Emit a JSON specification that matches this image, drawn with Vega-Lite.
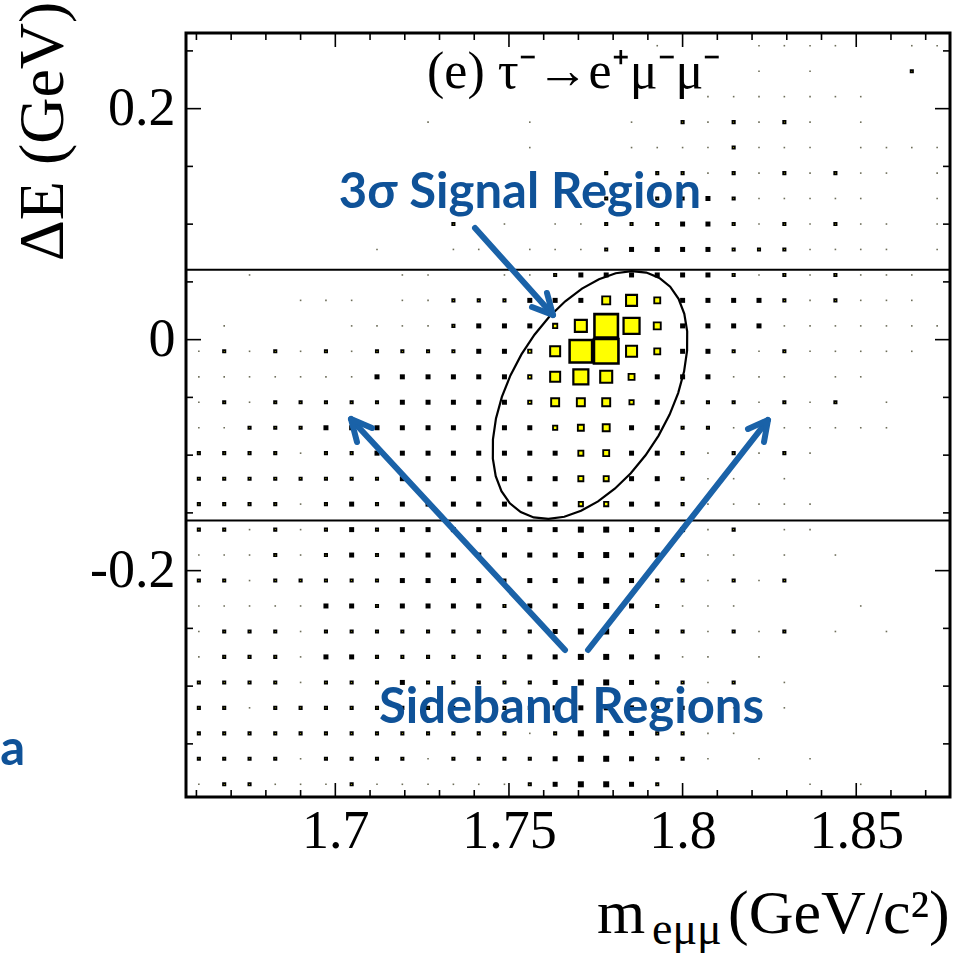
{
"$schema":"https://vega.github.io/schema/vega-lite/v6.json",
"width":764,"height":764,
"autosize":{"type":"none"},
"padding":{"left":186,"top":33,"right":13,"bottom":156},
"background":"white",
"config":{
 "view":{"stroke":"black","strokeWidth":3},
 "axis":{"grid":false,"domain":false,"ticks":false,"labelFont":"Liberation Serif","labelFontSize":54,"labelColor":"black","titleFont":"Liberation Serif","titleColor":"black","titleFontWeight":"normal","labelOverlap":false,"labelFlush":false}
},
"datasets":{
"xt":[{"m":1.7,"t":"maj"},{"m":1.75,"t":"maj"},{"m":1.8,"t":"maj"},{"m":1.85,"t":"maj"},{"m":1.66,"t":"min"},{"m":1.67,"t":"min"},{"m":1.68,"t":"min"},{"m":1.69,"t":"min"},{"m":1.71,"t":"min"},{"m":1.72,"t":"min"},{"m":1.73,"t":"min"},{"m":1.74,"t":"min"},{"m":1.76,"t":"min"},{"m":1.77,"t":"min"},{"m":1.78,"t":"min"},{"m":1.79,"t":"min"},{"m":1.81,"t":"min"},{"m":1.82,"t":"min"},{"m":1.83,"t":"min"},{"m":1.84,"t":"min"},{"m":1.86,"t":"min"},{"m":1.87,"t":"min"}],
"yt":[{"dE":-0.2,"t":"maj"},{"dE":0,"t":"maj"},{"dE":0.2,"t":"maj"},{"dE":-0.35,"t":"min"},{"dE":-0.3,"t":"min"},{"dE":-0.25,"t":"min"},{"dE":-0.15,"t":"min"},{"dE":-0.1,"t":"min"},{"dE":-0.05,"t":"min"},{"dE":0.05,"t":"min"},{"dE":0.1,"t":"min"},{"dE":0.15,"t":"min"},{"dE":0.25,"t":"min"}],
"cells":[
{"m":1.7927,"dE":0.2545,"n":1.6,"k":"low"},{"m":1.822,"dE":0.2545,"n":1.6,"k":"low"},{"m":1.8293,"dE":0.2545,"n":1.6,"k":"low"},{"m":1.8367,"dE":0.2545,"n":1.6,"k":"low"},{"m":1.844,"dE":0.2545,"n":1.6,"k":"low"},{"m":1.866,"dE":0.2545,"n":1.6,"k":"low"},{"m":1.8733,"dE":0.2545,"n":1.6,"k":"low"},
{"m":1.822,"dE":0.2324,"n":1.6,"k":"low"},{"m":1.8367,"dE":0.2324,"n":1.6,"k":"low"},{"m":1.866,"dE":0.2324,"n":2.4,"k":"sig"},
{"m":1.8,"dE":0.2104,"n":1.6,"k":"low"},{"m":1.8073,"dE":0.2104,"n":1.6,"k":"low"},{"m":1.8147,"dE":0.2104,"n":1.6,"k":"low"},{"m":1.822,"dE":0.2104,"n":1.6,"k":"low"},{"m":1.8293,"dE":0.2104,"n":1.6,"k":"low"},{"m":1.8367,"dE":0.2104,"n":1.6,"k":"low"},{"m":1.844,"dE":0.2104,"n":1.6,"k":"low"},{"m":1.8513,"dE":0.2104,"n":1.6,"k":"low"},
{"m":1.7267,"dE":0.1883,"n":1.6,"k":"low"},{"m":1.756,"dE":0.1883,"n":1.6,"k":"low"},{"m":1.7853,"dE":0.1883,"n":1.6,"k":"low"},{"m":1.8,"dE":0.1883,"n":2.4,"k":"sig"},{"m":1.8073,"dE":0.1883,"n":1.6,"k":"low"},{"m":1.8147,"dE":0.1883,"n":2.4,"k":"sig"},{"m":1.822,"dE":0.1883,"n":1.6,"k":"low"},{"m":1.8293,"dE":0.1883,"n":2.4,"k":"sig"},{"m":1.8367,"dE":0.1883,"n":1.6,"k":"low"},{"m":1.8513,"dE":0.1883,"n":1.6,"k":"low"},
{"m":1.756,"dE":0.1663,"n":1.6,"k":"low"},{"m":1.7853,"dE":0.1663,"n":1.6,"k":"low"},{"m":1.7927,"dE":0.1663,"n":1.6,"k":"low"},{"m":1.8,"dE":0.1663,"n":1.6,"k":"low"},{"m":1.8073,"dE":0.1663,"n":1.6,"k":"low"},{"m":1.8147,"dE":0.1663,"n":2.4,"k":"sig"},{"m":1.822,"dE":0.1663,"n":1.6,"k":"low"},{"m":1.8293,"dE":0.1663,"n":1.6,"k":"low"},{"m":1.8367,"dE":0.1663,"n":1.6,"k":"low"},{"m":1.8513,"dE":0.1663,"n":1.6,"k":"low"},{"m":1.8587,"dE":0.1663,"n":1.6,"k":"low"},{"m":1.866,"dE":0.1663,"n":1.6,"k":"low"},{"m":1.8733,"dE":0.1663,"n":1.6,"k":"low"},
{"m":1.778,"dE":0.1442,"n":2.4,"k":"sig"},{"m":1.7927,"dE":0.1442,"n":2.4,"k":"sig"},{"m":1.8,"dE":0.1442,"n":2.4,"k":"sig"},{"m":1.8073,"dE":0.1442,"n":1.6,"k":"low"},{"m":1.8147,"dE":0.1442,"n":2.4,"k":"sig"},{"m":1.822,"dE":0.1442,"n":1.6,"k":"low"},{"m":1.8293,"dE":0.1442,"n":2.4,"k":"sig"},{"m":1.8367,"dE":0.1442,"n":1.6,"k":"low"},{"m":1.844,"dE":0.1442,"n":2.4,"k":"sig"},{"m":1.8513,"dE":0.1442,"n":1.6,"k":"low"},{"m":1.8587,"dE":0.1442,"n":1.6,"k":"low"},{"m":1.8733,"dE":0.1442,"n":1.6,"k":"low"},
{"m":1.778,"dE":0.1222,"n":2.4,"k":"sig"},{"m":1.7927,"dE":0.1222,"n":2.4,"k":"sig"},{"m":1.8,"dE":0.1222,"n":2.4,"k":"sig"},{"m":1.8073,"dE":0.1222,"n":5,"k":"bkg"},{"m":1.8147,"dE":0.1222,"n":2.4,"k":"sig"},{"m":1.822,"dE":0.1222,"n":1.6,"k":"low"},{"m":1.8293,"dE":0.1222,"n":1.6,"k":"low"},{"m":1.8367,"dE":0.1222,"n":1.6,"k":"low"},{"m":1.844,"dE":0.1222,"n":1.6,"k":"low"},{"m":1.8513,"dE":0.1222,"n":1.6,"k":"low"},{"m":1.8733,"dE":0.1222,"n":1.6,"k":"low"},
{"m":1.734,"dE":0.1001,"n":2.4,"k":"sig"},{"m":1.7487,"dE":0.1001,"n":1.6,"k":"low"},{"m":1.7633,"dE":0.1001,"n":1.6,"k":"low"},{"m":1.7707,"dE":0.1001,"n":1.6,"k":"low"},{"m":1.778,"dE":0.1001,"n":2.4,"k":"sig"},{"m":1.7853,"dE":0.1001,"n":2.4,"k":"sig"},{"m":1.7927,"dE":0.1001,"n":2.4,"k":"sig"},{"m":1.8,"dE":0.1001,"n":5,"k":"bkg"},{"m":1.8073,"dE":0.1001,"n":5,"k":"bkg"},{"m":1.8147,"dE":0.1001,"n":2.4,"k":"sig"},{"m":1.822,"dE":0.1001,"n":1.6,"k":"low"},{"m":1.8293,"dE":0.1001,"n":2.4,"k":"sig"},{"m":1.8367,"dE":0.1001,"n":1.6,"k":"low"},{"m":1.844,"dE":0.1001,"n":2.4,"k":"sig"},{"m":1.8513,"dE":0.1001,"n":1.6,"k":"low"},{"m":1.8587,"dE":0.1001,"n":1.6,"k":"low"},{"m":1.8733,"dE":0.1001,"n":1.6,"k":"low"},
{"m":1.712,"dE":0.0781,"n":1.6,"k":"low"},{"m":1.734,"dE":0.0781,"n":1.6,"k":"low"},{"m":1.7413,"dE":0.0781,"n":1.6,"k":"low"},{"m":1.756,"dE":0.0781,"n":1.6,"k":"low"},{"m":1.7633,"dE":0.0781,"n":1.6,"k":"low"},{"m":1.7707,"dE":0.0781,"n":1.6,"k":"low"},{"m":1.778,"dE":0.0781,"n":2.4,"k":"sig"},{"m":1.7853,"dE":0.0781,"n":5,"k":"bkg"},{"m":1.7927,"dE":0.0781,"n":5,"k":"bkg"},{"m":1.8,"dE":0.0781,"n":5,"k":"bkg"},{"m":1.8073,"dE":0.0781,"n":5,"k":"bkg"},{"m":1.8147,"dE":0.0781,"n":2.4,"k":"sig"},{"m":1.822,"dE":0.0781,"n":2.4,"k":"sig"},{"m":1.8293,"dE":0.0781,"n":2.4,"k":"sig"},{"m":1.8367,"dE":0.0781,"n":1.6,"k":"low"},{"m":1.844,"dE":0.0781,"n":1.6,"k":"low"},{"m":1.8513,"dE":0.0781,"n":1.6,"k":"low"},{"m":1.8587,"dE":0.0781,"n":1.6,"k":"low"},{"m":1.8733,"dE":0.0781,"n":1.6,"k":"low"},
{"m":1.6753,"dE":0.056,"n":1.6,"k":"low"},{"m":1.7193,"dE":0.056,"n":1.6,"k":"low"},{"m":1.7267,"dE":0.056,"n":1.6,"k":"low"},{"m":1.7487,"dE":0.056,"n":1.6,"k":"low"},{"m":1.756,"dE":0.056,"n":1.6,"k":"low"},{"m":1.7633,"dE":0.056,"n":2.4,"k":"sig"},{"m":1.7707,"dE":0.056,"n":5,"k":"bkg"},{"m":1.778,"dE":0.056,"n":5,"k":"bkg"},{"m":1.7853,"dE":0.056,"n":5,"k":"bkg"},{"m":1.7927,"dE":0.056,"n":5,"k":"bkg"},{"m":1.8,"dE":0.056,"n":5,"k":"bkg"},{"m":1.8073,"dE":0.056,"n":5,"k":"bkg"},{"m":1.8147,"dE":0.056,"n":2.4,"k":"sig"},{"m":1.822,"dE":0.056,"n":1.6,"k":"low"},{"m":1.8293,"dE":0.056,"n":2.4,"k":"sig"},{"m":1.8367,"dE":0.056,"n":1.6,"k":"low"},{"m":1.844,"dE":0.056,"n":2.4,"k":"sig"},{"m":1.8513,"dE":0.056,"n":1.6,"k":"low"},{"m":1.8587,"dE":0.056,"n":1.6,"k":"low"},{"m":1.866,"dE":0.056,"n":1.6,"k":"low"},
{"m":1.69,"dE":0.034,"n":1.6,"k":"low"},{"m":1.6973,"dE":0.034,"n":1.6,"k":"low"},{"m":1.7047,"dE":0.034,"n":1.6,"k":"low"},{"m":1.7193,"dE":0.034,"n":1.6,"k":"low"},{"m":1.7267,"dE":0.034,"n":1.6,"k":"low"},{"m":1.734,"dE":0.034,"n":2.4,"k":"sig"},{"m":1.7413,"dE":0.034,"n":2.4,"k":"sig"},{"m":1.7487,"dE":0.034,"n":2.4,"k":"sig"},{"m":1.756,"dE":0.034,"n":5,"k":"bkg"},{"m":1.7633,"dE":0.034,"n":5,"k":"bkg"},{"m":1.7707,"dE":0.034,"n":5,"k":"bkg"},{"m":1.778,"dE":0.034,"n":8,"k":"sig"},{"m":1.7853,"dE":0.034,"n":11,"k":"sig"},{"m":1.7927,"dE":0.034,"n":6,"k":"sig"},{"m":1.8,"dE":0.034,"n":5,"k":"bkg"},{"m":1.8073,"dE":0.034,"n":5,"k":"bkg"},{"m":1.8147,"dE":0.034,"n":5,"k":"bkg"},{"m":1.822,"dE":0.034,"n":5,"k":"bkg"},{"m":1.8293,"dE":0.034,"n":2.4,"k":"sig"},{"m":1.8367,"dE":0.034,"n":1.6,"k":"low"},{"m":1.844,"dE":0.034,"n":2.4,"k":"sig"},{"m":1.8513,"dE":0.034,"n":1.6,"k":"low"},{"m":1.8587,"dE":0.034,"n":1.6,"k":"low"},{"m":1.866,"dE":0.034,"n":1.6,"k":"low"},
{"m":1.668,"dE":0.0119,"n":1.6,"k":"low"},{"m":1.7047,"dE":0.0119,"n":1.6,"k":"low"},{"m":1.712,"dE":0.0119,"n":1.6,"k":"low"},{"m":1.7193,"dE":0.0119,"n":1.6,"k":"low"},{"m":1.7267,"dE":0.0119,"n":1.6,"k":"low"},{"m":1.734,"dE":0.0119,"n":2.4,"k":"sig"},{"m":1.7413,"dE":0.0119,"n":5,"k":"bkg"},{"m":1.7487,"dE":0.0119,"n":5,"k":"bkg"},{"m":1.756,"dE":0.0119,"n":5,"k":"bkg"},{"m":1.7633,"dE":0.0119,"n":4.3,"k":"sig"},{"m":1.7707,"dE":0.0119,"n":12,"k":"sig"},{"m":1.778,"dE":0.0119,"n":23.5,"k":"sig"},{"m":1.7853,"dE":0.0119,"n":16,"k":"sig"},{"m":1.7927,"dE":0.0119,"n":7,"k":"sig"},{"m":1.8,"dE":0.0119,"n":5,"k":"bkg"},{"m":1.8073,"dE":0.0119,"n":5,"k":"bkg"},{"m":1.8147,"dE":0.0119,"n":5,"k":"bkg"},{"m":1.822,"dE":0.0119,"n":5,"k":"bkg"},{"m":1.8293,"dE":0.0119,"n":1.6,"k":"low"},{"m":1.8367,"dE":0.0119,"n":1.6,"k":"low"},{"m":1.844,"dE":0.0119,"n":1.6,"k":"low"},{"m":1.8513,"dE":0.0119,"n":1.6,"k":"low"},{"m":1.8587,"dE":0.0119,"n":1.6,"k":"low"},{"m":1.866,"dE":0.0119,"n":1.6,"k":"low"},{"m":1.8733,"dE":0.0119,"n":1.6,"k":"low"},
{"m":1.6607,"dE":-0.0101,"n":1.6,"k":"low"},{"m":1.668,"dE":-0.0101,"n":2.4,"k":"sig"},{"m":1.6753,"dE":-0.0101,"n":1.6,"k":"low"},{"m":1.6827,"dE":-0.0101,"n":2.4,"k":"sig"},{"m":1.69,"dE":-0.0101,"n":1.6,"k":"low"},{"m":1.6973,"dE":-0.0101,"n":2.4,"k":"sig"},{"m":1.7047,"dE":-0.0101,"n":1.6,"k":"low"},{"m":1.712,"dE":-0.0101,"n":2.4,"k":"sig"},{"m":1.7193,"dE":-0.0101,"n":2.4,"k":"sig"},{"m":1.7267,"dE":-0.0101,"n":2.4,"k":"sig"},{"m":1.734,"dE":-0.0101,"n":2.4,"k":"sig"},{"m":1.7413,"dE":-0.0101,"n":5,"k":"bkg"},{"m":1.7487,"dE":-0.0101,"n":5,"k":"bkg"},{"m":1.756,"dE":-0.0101,"n":3.4,"k":"sig"},{"m":1.7633,"dE":-0.0101,"n":10,"k":"sig"},{"m":1.7707,"dE":-0.0101,"n":22.5,"k":"sig"},{"m":1.778,"dE":-0.0101,"n":24.5,"k":"sig"},{"m":1.7853,"dE":-0.0101,"n":11,"k":"sig"},{"m":1.7927,"dE":-0.0101,"n":6,"k":"sig"},{"m":1.8,"dE":-0.0101,"n":5,"k":"bkg"},{"m":1.8073,"dE":-0.0101,"n":5,"k":"bkg"},{"m":1.8147,"dE":-0.0101,"n":2.4,"k":"sig"},{"m":1.822,"dE":-0.0101,"n":1.6,"k":"low"},{"m":1.8293,"dE":-0.0101,"n":2.4,"k":"sig"},{"m":1.8367,"dE":-0.0101,"n":1.6,"k":"low"},{"m":1.844,"dE":-0.0101,"n":1.6,"k":"low"},{"m":1.8513,"dE":-0.0101,"n":1.6,"k":"low"},{"m":1.8587,"dE":-0.0101,"n":1.6,"k":"low"},{"m":1.866,"dE":-0.0101,"n":1.6,"k":"low"},
{"m":1.6607,"dE":-0.0322,"n":1.6,"k":"low"},{"m":1.668,"dE":-0.0322,"n":1.6,"k":"low"},{"m":1.6753,"dE":-0.0322,"n":1.6,"k":"low"},{"m":1.6827,"dE":-0.0322,"n":1.6,"k":"low"},{"m":1.69,"dE":-0.0322,"n":1.6,"k":"low"},{"m":1.6973,"dE":-0.0322,"n":1.6,"k":"low"},{"m":1.7047,"dE":-0.0322,"n":1.6,"k":"low"},{"m":1.712,"dE":-0.0322,"n":5,"k":"bkg"},{"m":1.7193,"dE":-0.0322,"n":5,"k":"bkg"},{"m":1.7267,"dE":-0.0322,"n":5,"k":"bkg"},{"m":1.734,"dE":-0.0322,"n":5,"k":"bkg"},{"m":1.7413,"dE":-0.0322,"n":5,"k":"bkg"},{"m":1.7487,"dE":-0.0322,"n":5,"k":"bkg"},{"m":1.756,"dE":-0.0322,"n":3.4,"k":"sig"},{"m":1.7633,"dE":-0.0322,"n":10,"k":"sig"},{"m":1.7707,"dE":-0.0322,"n":15,"k":"sig"},{"m":1.778,"dE":-0.0322,"n":12,"k":"sig"},{"m":1.7853,"dE":-0.0322,"n":6,"k":"sig"},{"m":1.7927,"dE":-0.0322,"n":5,"k":"bkg"},{"m":1.8,"dE":-0.0322,"n":5,"k":"bkg"},{"m":1.8073,"dE":-0.0322,"n":5,"k":"bkg"},{"m":1.8147,"dE":-0.0322,"n":1.6,"k":"low"},{"m":1.822,"dE":-0.0322,"n":1.6,"k":"low"},{"m":1.8293,"dE":-0.0322,"n":1.6,"k":"low"},{"m":1.844,"dE":-0.0322,"n":1.6,"k":"low"},{"m":1.8513,"dE":-0.0322,"n":1.6,"k":"low"},
{"m":1.6607,"dE":-0.0542,"n":1.6,"k":"low"},{"m":1.668,"dE":-0.0542,"n":2.4,"k":"sig"},{"m":1.6753,"dE":-0.0542,"n":1.6,"k":"low"},{"m":1.6827,"dE":-0.0542,"n":2.4,"k":"sig"},{"m":1.69,"dE":-0.0542,"n":2.4,"k":"sig"},{"m":1.6973,"dE":-0.0542,"n":2.4,"k":"sig"},{"m":1.7047,"dE":-0.0542,"n":2.4,"k":"sig"},{"m":1.712,"dE":-0.0542,"n":2.4,"k":"sig"},{"m":1.7193,"dE":-0.0542,"n":5,"k":"bkg"},{"m":1.7267,"dE":-0.0542,"n":5,"k":"bkg"},{"m":1.734,"dE":-0.0542,"n":5,"k":"bkg"},{"m":1.7413,"dE":-0.0542,"n":5,"k":"bkg"},{"m":1.7487,"dE":-0.0542,"n":5,"k":"bkg"},{"m":1.756,"dE":-0.0542,"n":3.4,"k":"sig"},{"m":1.7633,"dE":-0.0542,"n":8,"k":"sig"},{"m":1.7707,"dE":-0.0542,"n":8,"k":"sig"},{"m":1.778,"dE":-0.0542,"n":8,"k":"sig"},{"m":1.7853,"dE":-0.0542,"n":4.3,"k":"sig"},{"m":1.7927,"dE":-0.0542,"n":5,"k":"bkg"},{"m":1.8,"dE":-0.0542,"n":2.4,"k":"sig"},{"m":1.8073,"dE":-0.0542,"n":2.4,"k":"sig"},{"m":1.8147,"dE":-0.0542,"n":2.4,"k":"sig"},{"m":1.822,"dE":-0.0542,"n":1.6,"k":"low"},{"m":1.8293,"dE":-0.0542,"n":2.4,"k":"sig"},{"m":1.8367,"dE":-0.0542,"n":1.6,"k":"low"},{"m":1.844,"dE":-0.0542,"n":2.4,"k":"sig"},{"m":1.8587,"dE":-0.0542,"n":1.6,"k":"low"},
{"m":1.6607,"dE":-0.0763,"n":1.6,"k":"low"},{"m":1.668,"dE":-0.0763,"n":1.6,"k":"low"},{"m":1.6753,"dE":-0.0763,"n":2.4,"k":"sig"},{"m":1.6827,"dE":-0.0763,"n":2.4,"k":"sig"},{"m":1.69,"dE":-0.0763,"n":2.4,"k":"sig"},{"m":1.6973,"dE":-0.0763,"n":5,"k":"bkg"},{"m":1.7047,"dE":-0.0763,"n":5,"k":"bkg"},{"m":1.712,"dE":-0.0763,"n":5,"k":"bkg"},{"m":1.7193,"dE":-0.0763,"n":5,"k":"bkg"},{"m":1.7267,"dE":-0.0763,"n":5,"k":"bkg"},{"m":1.734,"dE":-0.0763,"n":5,"k":"bkg"},{"m":1.7413,"dE":-0.0763,"n":5,"k":"bkg"},{"m":1.7487,"dE":-0.0763,"n":5,"k":"bkg"},{"m":1.756,"dE":-0.0763,"n":5,"k":"bkg"},{"m":1.7633,"dE":-0.0763,"n":4.3,"k":"sig"},{"m":1.7707,"dE":-0.0763,"n":6,"k":"sig"},{"m":1.778,"dE":-0.0763,"n":7,"k":"sig"},{"m":1.7853,"dE":-0.0763,"n":5,"k":"bkg"},{"m":1.7927,"dE":-0.0763,"n":5,"k":"bkg"},{"m":1.8,"dE":-0.0763,"n":2.4,"k":"sig"},{"m":1.8073,"dE":-0.0763,"n":2.4,"k":"sig"},{"m":1.8147,"dE":-0.0763,"n":1.6,"k":"low"},{"m":1.8293,"dE":-0.0763,"n":1.6,"k":"low"},{"m":1.8367,"dE":-0.0763,"n":1.6,"k":"low"},{"m":1.844,"dE":-0.0763,"n":1.6,"k":"low"},{"m":1.8513,"dE":-0.0763,"n":1.6,"k":"low"},{"m":1.8587,"dE":-0.0763,"n":1.6,"k":"low"},
{"m":1.6607,"dE":-0.0983,"n":2.4,"k":"sig"},{"m":1.668,"dE":-0.0983,"n":2.4,"k":"sig"},{"m":1.6753,"dE":-0.0983,"n":2.4,"k":"sig"},{"m":1.6827,"dE":-0.0983,"n":2.4,"k":"sig"},{"m":1.69,"dE":-0.0983,"n":1.6,"k":"low"},{"m":1.6973,"dE":-0.0983,"n":2.4,"k":"sig"},{"m":1.7047,"dE":-0.0983,"n":2.4,"k":"sig"},{"m":1.712,"dE":-0.0983,"n":5,"k":"bkg"},{"m":1.7193,"dE":-0.0983,"n":5,"k":"bkg"},{"m":1.7267,"dE":-0.0983,"n":5,"k":"bkg"},{"m":1.734,"dE":-0.0983,"n":5,"k":"bkg"},{"m":1.7413,"dE":-0.0983,"n":5,"k":"bkg"},{"m":1.7487,"dE":-0.0983,"n":5,"k":"bkg"},{"m":1.756,"dE":-0.0983,"n":5,"k":"bkg"},{"m":1.7633,"dE":-0.0983,"n":5,"k":"bkg"},{"m":1.7707,"dE":-0.0983,"n":5.1,"k":"sig"},{"m":1.778,"dE":-0.0983,"n":6,"k":"sig"},{"m":1.7853,"dE":-0.0983,"n":5,"k":"bkg"},{"m":1.7927,"dE":-0.0983,"n":5,"k":"bkg"},{"m":1.8,"dE":-0.0983,"n":2.4,"k":"sig"},{"m":1.8073,"dE":-0.0983,"n":1.6,"k":"low"},{"m":1.8147,"dE":-0.0983,"n":2.4,"k":"sig"},{"m":1.822,"dE":-0.0983,"n":1.6,"k":"low"},{"m":1.8293,"dE":-0.0983,"n":2.4,"k":"sig"},{"m":1.8367,"dE":-0.0983,"n":1.6,"k":"low"},
{"m":1.6607,"dE":-0.1204,"n":2.4,"k":"sig"},{"m":1.668,"dE":-0.1204,"n":2.4,"k":"sig"},{"m":1.6753,"dE":-0.1204,"n":2.4,"k":"sig"},{"m":1.6827,"dE":-0.1204,"n":2.4,"k":"sig"},{"m":1.69,"dE":-0.1204,"n":2.4,"k":"sig"},{"m":1.6973,"dE":-0.1204,"n":2.4,"k":"sig"},{"m":1.7047,"dE":-0.1204,"n":2.4,"k":"sig"},{"m":1.712,"dE":-0.1204,"n":2.4,"k":"sig"},{"m":1.7193,"dE":-0.1204,"n":5,"k":"bkg"},{"m":1.7267,"dE":-0.1204,"n":5,"k":"bkg"},{"m":1.734,"dE":-0.1204,"n":5,"k":"bkg"},{"m":1.7413,"dE":-0.1204,"n":5,"k":"bkg"},{"m":1.7487,"dE":-0.1204,"n":5,"k":"bkg"},{"m":1.756,"dE":-0.1204,"n":5,"k":"bkg"},{"m":1.7633,"dE":-0.1204,"n":5,"k":"bkg"},{"m":1.7707,"dE":-0.1204,"n":5.1,"k":"sig"},{"m":1.778,"dE":-0.1204,"n":5.1,"k":"sig"},{"m":1.7853,"dE":-0.1204,"n":5,"k":"bkg"},{"m":1.7927,"dE":-0.1204,"n":5,"k":"bkg"},{"m":1.8,"dE":-0.1204,"n":2.4,"k":"sig"},{"m":1.8073,"dE":-0.1204,"n":1.6,"k":"low"},{"m":1.8147,"dE":-0.1204,"n":1.6,"k":"low"},{"m":1.8293,"dE":-0.1204,"n":1.6,"k":"low"},
{"m":1.6607,"dE":-0.1424,"n":2.4,"k":"sig"},{"m":1.668,"dE":-0.1424,"n":2.4,"k":"sig"},{"m":1.6753,"dE":-0.1424,"n":2.4,"k":"sig"},{"m":1.6827,"dE":-0.1424,"n":2.4,"k":"sig"},{"m":1.69,"dE":-0.1424,"n":1.6,"k":"low"},{"m":1.6973,"dE":-0.1424,"n":2.4,"k":"sig"},{"m":1.7047,"dE":-0.1424,"n":5,"k":"bkg"},{"m":1.712,"dE":-0.1424,"n":2.4,"k":"sig"},{"m":1.7193,"dE":-0.1424,"n":5,"k":"bkg"},{"m":1.7267,"dE":-0.1424,"n":5,"k":"bkg"},{"m":1.734,"dE":-0.1424,"n":5,"k":"bkg"},{"m":1.7413,"dE":-0.1424,"n":5,"k":"bkg"},{"m":1.7487,"dE":-0.1424,"n":5,"k":"bkg"},{"m":1.756,"dE":-0.1424,"n":5,"k":"bkg"},{"m":1.7633,"dE":-0.1424,"n":5,"k":"bkg"},{"m":1.7707,"dE":-0.1424,"n":4.3,"k":"sig"},{"m":1.778,"dE":-0.1424,"n":4.3,"k":"sig"},{"m":1.7853,"dE":-0.1424,"n":5,"k":"bkg"},{"m":1.7927,"dE":-0.1424,"n":5,"k":"bkg"},{"m":1.8,"dE":-0.1424,"n":2.4,"k":"sig"},{"m":1.8073,"dE":-0.1424,"n":1.6,"k":"low"},{"m":1.8147,"dE":-0.1424,"n":1.6,"k":"low"},{"m":1.822,"dE":-0.1424,"n":1.6,"k":"low"},{"m":1.8293,"dE":-0.1424,"n":1.6,"k":"low"},{"m":1.8367,"dE":-0.1424,"n":1.6,"k":"low"},
{"m":1.6607,"dE":-0.1645,"n":2.4,"k":"sig"},{"m":1.668,"dE":-0.1645,"n":2.4,"k":"sig"},{"m":1.6753,"dE":-0.1645,"n":1.6,"k":"low"},{"m":1.6827,"dE":-0.1645,"n":2.4,"k":"sig"},{"m":1.69,"dE":-0.1645,"n":1.6,"k":"low"},{"m":1.6973,"dE":-0.1645,"n":2.4,"k":"sig"},{"m":1.7047,"dE":-0.1645,"n":5,"k":"bkg"},{"m":1.712,"dE":-0.1645,"n":2.4,"k":"sig"},{"m":1.7193,"dE":-0.1645,"n":5,"k":"bkg"},{"m":1.7267,"dE":-0.1645,"n":5,"k":"bkg"},{"m":1.734,"dE":-0.1645,"n":5,"k":"bkg"},{"m":1.7413,"dE":-0.1645,"n":5,"k":"bkg"},{"m":1.7487,"dE":-0.1645,"n":5,"k":"bkg"},{"m":1.756,"dE":-0.1645,"n":5,"k":"bkg"},{"m":1.7633,"dE":-0.1645,"n":5,"k":"bkg"},{"m":1.7707,"dE":-0.1645,"n":6,"k":"bkg"},{"m":1.778,"dE":-0.1645,"n":6,"k":"bkg"},{"m":1.7853,"dE":-0.1645,"n":5,"k":"bkg"},{"m":1.7927,"dE":-0.1645,"n":5,"k":"bkg"},{"m":1.8,"dE":-0.1645,"n":5,"k":"bkg"},{"m":1.8073,"dE":-0.1645,"n":1.6,"k":"low"},{"m":1.8147,"dE":-0.1645,"n":2.4,"k":"sig"},{"m":1.8293,"dE":-0.1645,"n":1.6,"k":"low"},{"m":1.8367,"dE":-0.1645,"n":1.6,"k":"low"},
{"m":1.6607,"dE":-0.1865,"n":1.6,"k":"low"},{"m":1.668,"dE":-0.1865,"n":1.6,"k":"low"},{"m":1.6753,"dE":-0.1865,"n":1.6,"k":"low"},{"m":1.6827,"dE":-0.1865,"n":2.4,"k":"sig"},{"m":1.69,"dE":-0.1865,"n":1.6,"k":"low"},{"m":1.6973,"dE":-0.1865,"n":2.4,"k":"sig"},{"m":1.7047,"dE":-0.1865,"n":5,"k":"bkg"},{"m":1.712,"dE":-0.1865,"n":2.4,"k":"sig"},{"m":1.7193,"dE":-0.1865,"n":5,"k":"bkg"},{"m":1.7267,"dE":-0.1865,"n":5,"k":"bkg"},{"m":1.734,"dE":-0.1865,"n":5,"k":"bkg"},{"m":1.7413,"dE":-0.1865,"n":5,"k":"bkg"},{"m":1.7487,"dE":-0.1865,"n":5,"k":"bkg"},{"m":1.756,"dE":-0.1865,"n":5,"k":"bkg"},{"m":1.7633,"dE":-0.1865,"n":5,"k":"bkg"},{"m":1.7707,"dE":-0.1865,"n":6,"k":"bkg"},{"m":1.778,"dE":-0.1865,"n":6,"k":"bkg"},{"m":1.7853,"dE":-0.1865,"n":5,"k":"bkg"},{"m":1.7927,"dE":-0.1865,"n":5,"k":"bkg"},{"m":1.8,"dE":-0.1865,"n":2.4,"k":"sig"},{"m":1.8073,"dE":-0.1865,"n":1.6,"k":"low"},{"m":1.8147,"dE":-0.1865,"n":1.6,"k":"low"},{"m":1.8293,"dE":-0.1865,"n":1.6,"k":"low"},{"m":1.844,"dE":-0.1865,"n":1.6,"k":"low"},
{"m":1.6607,"dE":-0.2086,"n":2.4,"k":"sig"},{"m":1.668,"dE":-0.2086,"n":2.4,"k":"sig"},{"m":1.6753,"dE":-0.2086,"n":1.6,"k":"low"},{"m":1.6827,"dE":-0.2086,"n":2.4,"k":"sig"},{"m":1.69,"dE":-0.2086,"n":2.4,"k":"sig"},{"m":1.6973,"dE":-0.2086,"n":2.4,"k":"sig"},{"m":1.7047,"dE":-0.2086,"n":2.4,"k":"sig"},{"m":1.712,"dE":-0.2086,"n":2.4,"k":"sig"},{"m":1.7193,"dE":-0.2086,"n":5,"k":"bkg"},{"m":1.7267,"dE":-0.2086,"n":5,"k":"bkg"},{"m":1.734,"dE":-0.2086,"n":5,"k":"bkg"},{"m":1.7413,"dE":-0.2086,"n":5,"k":"bkg"},{"m":1.7487,"dE":-0.2086,"n":2.4,"k":"sig"},{"m":1.756,"dE":-0.2086,"n":5,"k":"bkg"},{"m":1.7633,"dE":-0.2086,"n":5,"k":"bkg"},{"m":1.7707,"dE":-0.2086,"n":6,"k":"bkg"},{"m":1.778,"dE":-0.2086,"n":6,"k":"bkg"},{"m":1.7853,"dE":-0.2086,"n":5,"k":"bkg"},{"m":1.7927,"dE":-0.2086,"n":2.4,"k":"sig"},{"m":1.8,"dE":-0.2086,"n":2.4,"k":"sig"},{"m":1.8073,"dE":-0.2086,"n":1.6,"k":"low"},{"m":1.8147,"dE":-0.2086,"n":2.4,"k":"sig"},{"m":1.822,"dE":-0.2086,"n":1.6,"k":"low"},{"m":1.8293,"dE":-0.2086,"n":2.4,"k":"sig"},
{"m":1.6607,"dE":-0.2306,"n":1.6,"k":"low"},{"m":1.668,"dE":-0.2306,"n":1.6,"k":"low"},{"m":1.6753,"dE":-0.2306,"n":1.6,"k":"low"},{"m":1.6827,"dE":-0.2306,"n":1.6,"k":"low"},{"m":1.69,"dE":-0.2306,"n":1.6,"k":"low"},{"m":1.6973,"dE":-0.2306,"n":5,"k":"bkg"},{"m":1.7047,"dE":-0.2306,"n":5,"k":"bkg"},{"m":1.712,"dE":-0.2306,"n":2.4,"k":"sig"},{"m":1.7193,"dE":-0.2306,"n":5,"k":"bkg"},{"m":1.7267,"dE":-0.2306,"n":5,"k":"bkg"},{"m":1.734,"dE":-0.2306,"n":5,"k":"bkg"},{"m":1.7413,"dE":-0.2306,"n":5,"k":"bkg"},{"m":1.7487,"dE":-0.2306,"n":2.4,"k":"sig"},{"m":1.756,"dE":-0.2306,"n":5,"k":"bkg"},{"m":1.7633,"dE":-0.2306,"n":5,"k":"bkg"},{"m":1.7707,"dE":-0.2306,"n":6,"k":"bkg"},{"m":1.778,"dE":-0.2306,"n":6,"k":"bkg"},{"m":1.7853,"dE":-0.2306,"n":5,"k":"bkg"},{"m":1.7927,"dE":-0.2306,"n":2.4,"k":"sig"},{"m":1.8,"dE":-0.2306,"n":1.6,"k":"low"},{"m":1.8073,"dE":-0.2306,"n":1.6,"k":"low"},{"m":1.8147,"dE":-0.2306,"n":1.6,"k":"low"},{"m":1.8513,"dE":-0.2306,"n":1.6,"k":"low"},
{"m":1.6607,"dE":-0.2527,"n":1.6,"k":"low"},{"m":1.668,"dE":-0.2527,"n":2.4,"k":"sig"},{"m":1.6753,"dE":-0.2527,"n":2.4,"k":"sig"},{"m":1.6827,"dE":-0.2527,"n":2.4,"k":"sig"},{"m":1.69,"dE":-0.2527,"n":1.6,"k":"low"},{"m":1.6973,"dE":-0.2527,"n":2.4,"k":"sig"},{"m":1.7047,"dE":-0.2527,"n":2.4,"k":"sig"},{"m":1.712,"dE":-0.2527,"n":2.4,"k":"sig"},{"m":1.7193,"dE":-0.2527,"n":2.4,"k":"sig"},{"m":1.7267,"dE":-0.2527,"n":2.4,"k":"sig"},{"m":1.734,"dE":-0.2527,"n":2.4,"k":"sig"},{"m":1.7413,"dE":-0.2527,"n":2.4,"k":"sig"},{"m":1.7487,"dE":-0.2527,"n":2.4,"k":"sig"},{"m":1.756,"dE":-0.2527,"n":2.4,"k":"sig"},{"m":1.7633,"dE":-0.2527,"n":5,"k":"bkg"},{"m":1.7707,"dE":-0.2527,"n":6,"k":"bkg"},{"m":1.778,"dE":-0.2527,"n":6,"k":"bkg"},{"m":1.7853,"dE":-0.2527,"n":5,"k":"bkg"},{"m":1.7927,"dE":-0.2527,"n":2.4,"k":"sig"},{"m":1.8,"dE":-0.2527,"n":2.4,"k":"sig"},{"m":1.8073,"dE":-0.2527,"n":1.6,"k":"low"},{"m":1.8147,"dE":-0.2527,"n":2.4,"k":"sig"},{"m":1.822,"dE":-0.2527,"n":1.6,"k":"low"},{"m":1.8293,"dE":-0.2527,"n":2.4,"k":"sig"},{"m":1.844,"dE":-0.2527,"n":1.6,"k":"low"},{"m":1.8587,"dE":-0.2527,"n":1.6,"k":"low"},
{"m":1.6607,"dE":-0.2747,"n":1.6,"k":"low"},{"m":1.668,"dE":-0.2747,"n":2.4,"k":"sig"},{"m":1.6753,"dE":-0.2747,"n":2.4,"k":"sig"},{"m":1.6827,"dE":-0.2747,"n":2.4,"k":"sig"},{"m":1.69,"dE":-0.2747,"n":1.6,"k":"low"},{"m":1.6973,"dE":-0.2747,"n":5,"k":"bkg"},{"m":1.7047,"dE":-0.2747,"n":5,"k":"bkg"},{"m":1.712,"dE":-0.2747,"n":2.4,"k":"sig"},{"m":1.7193,"dE":-0.2747,"n":2.4,"k":"sig"},{"m":1.7267,"dE":-0.2747,"n":2.4,"k":"sig"},{"m":1.734,"dE":-0.2747,"n":2.4,"k":"sig"},{"m":1.7413,"dE":-0.2747,"n":2.4,"k":"sig"},{"m":1.7487,"dE":-0.2747,"n":2.4,"k":"sig"},{"m":1.756,"dE":-0.2747,"n":5,"k":"bkg"},{"m":1.7633,"dE":-0.2747,"n":5,"k":"bkg"},{"m":1.7707,"dE":-0.2747,"n":6,"k":"bkg"},{"m":1.778,"dE":-0.2747,"n":6,"k":"bkg"},{"m":1.7853,"dE":-0.2747,"n":5,"k":"bkg"},{"m":1.7927,"dE":-0.2747,"n":5,"k":"bkg"},{"m":1.8,"dE":-0.2747,"n":1.6,"k":"low"},{"m":1.8073,"dE":-0.2747,"n":1.6,"k":"low"},{"m":1.822,"dE":-0.2747,"n":1.6,"k":"low"},
{"m":1.6607,"dE":-0.2968,"n":2.4,"k":"sig"},{"m":1.668,"dE":-0.2968,"n":2.4,"k":"sig"},{"m":1.6753,"dE":-0.2968,"n":2.4,"k":"sig"},{"m":1.6827,"dE":-0.2968,"n":2.4,"k":"sig"},{"m":1.69,"dE":-0.2968,"n":1.6,"k":"low"},{"m":1.6973,"dE":-0.2968,"n":2.4,"k":"sig"},{"m":1.7047,"dE":-0.2968,"n":2.4,"k":"sig"},{"m":1.712,"dE":-0.2968,"n":2.4,"k":"sig"},{"m":1.7193,"dE":-0.2968,"n":5,"k":"bkg"},{"m":1.7267,"dE":-0.2968,"n":2.4,"k":"sig"},{"m":1.734,"dE":-0.2968,"n":2.4,"k":"sig"},{"m":1.7413,"dE":-0.2968,"n":2.4,"k":"sig"},{"m":1.7487,"dE":-0.2968,"n":2.4,"k":"sig"},{"m":1.756,"dE":-0.2968,"n":2.4,"k":"sig"},{"m":1.7633,"dE":-0.2968,"n":5,"k":"bkg"},{"m":1.7707,"dE":-0.2968,"n":6,"k":"bkg"},{"m":1.778,"dE":-0.2968,"n":6,"k":"bkg"},{"m":1.7853,"dE":-0.2968,"n":5,"k":"bkg"},{"m":1.7927,"dE":-0.2968,"n":2.4,"k":"sig"},{"m":1.8,"dE":-0.2968,"n":2.4,"k":"sig"},{"m":1.8073,"dE":-0.2968,"n":1.6,"k":"low"},{"m":1.8147,"dE":-0.2968,"n":2.4,"k":"sig"},{"m":1.8293,"dE":-0.2968,"n":1.6,"k":"low"},
{"m":1.6607,"dE":-0.3188,"n":2.4,"k":"sig"},{"m":1.668,"dE":-0.3188,"n":2.4,"k":"sig"},{"m":1.6753,"dE":-0.3188,"n":1.6,"k":"low"},{"m":1.6827,"dE":-0.3188,"n":2.4,"k":"sig"},{"m":1.69,"dE":-0.3188,"n":2.4,"k":"sig"},{"m":1.6973,"dE":-0.3188,"n":2.4,"k":"sig"},{"m":1.7047,"dE":-0.3188,"n":2.4,"k":"sig"},{"m":1.712,"dE":-0.3188,"n":2.4,"k":"sig"},{"m":1.7193,"dE":-0.3188,"n":2.4,"k":"sig"},{"m":1.7267,"dE":-0.3188,"n":2.4,"k":"sig"},{"m":1.734,"dE":-0.3188,"n":2.4,"k":"sig"},{"m":1.7413,"dE":-0.3188,"n":2.4,"k":"sig"},{"m":1.7487,"dE":-0.3188,"n":2.4,"k":"sig"},{"m":1.756,"dE":-0.3188,"n":2.4,"k":"sig"},{"m":1.7633,"dE":-0.3188,"n":5,"k":"bkg"},{"m":1.7707,"dE":-0.3188,"n":5,"k":"bkg"},{"m":1.778,"dE":-0.3188,"n":5,"k":"bkg"},{"m":1.7853,"dE":-0.3188,"n":5,"k":"bkg"},{"m":1.7927,"dE":-0.3188,"n":2.4,"k":"sig"},{"m":1.8,"dE":-0.3188,"n":2.4,"k":"sig"},{"m":1.8073,"dE":-0.3188,"n":1.6,"k":"low"},{"m":1.8147,"dE":-0.3188,"n":1.6,"k":"low"},{"m":1.8293,"dE":-0.3188,"n":1.6,"k":"low"},
{"m":1.6607,"dE":-0.3409,"n":2.4,"k":"sig"},{"m":1.668,"dE":-0.3409,"n":2.4,"k":"sig"},{"m":1.6753,"dE":-0.3409,"n":2.4,"k":"sig"},{"m":1.6827,"dE":-0.3409,"n":2.4,"k":"sig"},{"m":1.69,"dE":-0.3409,"n":2.4,"k":"sig"},{"m":1.6973,"dE":-0.3409,"n":2.4,"k":"sig"},{"m":1.7047,"dE":-0.3409,"n":2.4,"k":"sig"},{"m":1.712,"dE":-0.3409,"n":2.4,"k":"sig"},{"m":1.7193,"dE":-0.3409,"n":2.4,"k":"sig"},{"m":1.7267,"dE":-0.3409,"n":2.4,"k":"sig"},{"m":1.734,"dE":-0.3409,"n":2.4,"k":"sig"},{"m":1.7413,"dE":-0.3409,"n":2.4,"k":"sig"},{"m":1.7487,"dE":-0.3409,"n":2.4,"k":"sig"},{"m":1.756,"dE":-0.3409,"n":1.6,"k":"low"},{"m":1.7633,"dE":-0.3409,"n":2.4,"k":"sig"},{"m":1.7707,"dE":-0.3409,"n":6,"k":"bkg"},{"m":1.778,"dE":-0.3409,"n":6,"k":"bkg"},{"m":1.7853,"dE":-0.3409,"n":5,"k":"bkg"},{"m":1.7927,"dE":-0.3409,"n":2.4,"k":"sig"},{"m":1.8,"dE":-0.3409,"n":2.4,"k":"sig"},{"m":1.8073,"dE":-0.3409,"n":1.6,"k":"low"},{"m":1.8147,"dE":-0.3409,"n":1.6,"k":"low"},
{"m":1.6607,"dE":-0.3629,"n":2.4,"k":"sig"},{"m":1.668,"dE":-0.3629,"n":2.4,"k":"sig"},{"m":1.6753,"dE":-0.3629,"n":2.4,"k":"sig"},{"m":1.6827,"dE":-0.3629,"n":2.4,"k":"sig"},{"m":1.69,"dE":-0.3629,"n":1.6,"k":"low"},{"m":1.6973,"dE":-0.3629,"n":2.4,"k":"sig"},{"m":1.7047,"dE":-0.3629,"n":2.4,"k":"sig"},{"m":1.712,"dE":-0.3629,"n":2.4,"k":"sig"},{"m":1.7193,"dE":-0.3629,"n":2.4,"k":"sig"},{"m":1.7267,"dE":-0.3629,"n":1.6,"k":"low"},{"m":1.734,"dE":-0.3629,"n":2.4,"k":"sig"},{"m":1.7413,"dE":-0.3629,"n":2.4,"k":"sig"},{"m":1.7487,"dE":-0.3629,"n":2.4,"k":"sig"},{"m":1.756,"dE":-0.3629,"n":2.4,"k":"sig"},{"m":1.7633,"dE":-0.3629,"n":5,"k":"bkg"},{"m":1.7707,"dE":-0.3629,"n":6,"k":"bkg"},{"m":1.778,"dE":-0.3629,"n":6,"k":"bkg"},{"m":1.7853,"dE":-0.3629,"n":5,"k":"bkg"},{"m":1.7927,"dE":-0.3629,"n":2.4,"k":"sig"},{"m":1.8,"dE":-0.3629,"n":2.4,"k":"sig"},{"m":1.8073,"dE":-0.3629,"n":1.6,"k":"low"},{"m":1.822,"dE":-0.3629,"n":1.6,"k":"low"},{"m":1.8367,"dE":-0.3629,"n":1.6,"k":"low"},
{"m":1.6607,"dE":-0.385,"n":1.6,"k":"low"},{"m":1.668,"dE":-0.385,"n":2.4,"k":"sig"},{"m":1.6753,"dE":-0.385,"n":2.4,"k":"sig"},{"m":1.6827,"dE":-0.385,"n":1.6,"k":"low"},{"m":1.69,"dE":-0.385,"n":1.6,"k":"low"},{"m":1.6973,"dE":-0.385,"n":1.6,"k":"low"},{"m":1.7047,"dE":-0.385,"n":2.4,"k":"sig"},{"m":1.712,"dE":-0.385,"n":1.6,"k":"low"},{"m":1.7193,"dE":-0.385,"n":1.6,"k":"low"},{"m":1.7267,"dE":-0.385,"n":1.6,"k":"low"},{"m":1.734,"dE":-0.385,"n":1.6,"k":"low"},{"m":1.7413,"dE":-0.385,"n":1.6,"k":"low"},{"m":1.7487,"dE":-0.385,"n":1.6,"k":"low"},{"m":1.756,"dE":-0.385,"n":2.4,"k":"sig"},{"m":1.7633,"dE":-0.385,"n":5,"k":"bkg"},{"m":1.7707,"dE":-0.385,"n":6,"k":"bkg"},{"m":1.778,"dE":-0.385,"n":6,"k":"bkg"},{"m":1.7853,"dE":-0.385,"n":5,"k":"bkg"},{"m":1.7927,"dE":-0.385,"n":2.4,"k":"sig"},{"m":1.8367,"dE":-0.385,"n":1.6,"k":"low"},{"m":1.8513,"dE":-0.385,"n":1.6,"k":"low"}
],
"ellipse":[
{"k":0,"m":1.79329,"dE":0.05349},{"k":1,"m":1.78956,"dE":0.05805},{"k":2,"m":1.78533,"dE":0.05939},{"k":3,"m":1.78074,"dE":0.05748},{"k":4,"m":1.77592,"dE":0.05234},{"k":5,"m":1.77103,"dE":0.04418},{"k":6,"m":1.76621,"dE":0.0332},{"k":7,"m":1.7616,"dE":0.01976},{"k":8,"m":1.75735,"dE":0.00427},{"k":9,"m":1.75359,"dE":-0.0128},{"k":10,"m":1.75042,"dE":-0.03095},{"k":11,"m":1.74796,"dE":-0.04961},{"k":12,"m":1.74626,"dE":-0.06822},{"k":13,"m":1.74539,"dE":-0.08622},{"k":14,"m":1.74536,"dE":-0.10304},{"k":15,"m":1.74619,"dE":-0.1182},{"k":16,"m":1.74784,"dE":-0.13123},{"k":17,"m":1.75026,"dE":-0.14172},{"k":18,"m":1.75339,"dE":-0.14935},{"k":19,"m":1.75712,"dE":-0.15391},{"k":20,"m":1.76135,"dE":-0.15525},{"k":21,"m":1.76594,"dE":-0.15334},{"k":22,"m":1.77076,"dE":-0.1482},{"k":23,"m":1.77565,"dE":-0.14004},{"k":24,"m":1.78047,"dE":-0.12906},{"k":25,"m":1.78508,"dE":-0.11562},{"k":26,"m":1.78933,"dE":-0.10013},{"k":27,"m":1.79309,"dE":-0.08306},{"k":28,"m":1.79626,"dE":-0.06491},{"k":29,"m":1.79872,"dE":-0.04625},{"k":30,"m":1.80042,"dE":-0.02764},{"k":31,"m":1.80129,"dE":-0.00964},{"k":32,"m":1.80132,"dE":0.00718},{"k":33,"m":1.80049,"dE":0.02234},{"k":34,"m":1.79884,"dE":0.03537},{"k":35,"m":1.79642,"dE":0.04586},{"k":36,"m":1.79329,"dE":0.05349}
],
"arrows":[
{"a":"a1","k":0,"m":1.74022,"dE":0.09666},{"a":"a1","k":1,"m":1.76268,"dE":0.02133},
{"a":"a1h","k":0,"m":1.76095,"dE":0.04038},{"a":"a1h","k":1,"m":1.76268,"dE":0.02133},{"a":"a1h","k":2,"m":1.75663,"dE":0.02826},
{"a":"a2","k":0,"m":1.76614,"dE":-0.26872},{"a":"a2","k":1,"m":1.70451,"dE":-0.06871},
{"a":"a2h","k":0,"m":1.71056,"dE":-0.07651},{"a":"a2h","k":1,"m":1.70451,"dE":-0.06871},{"a":"a2h","k":2,"m":1.70624,"dE":-0.08863},
{"a":"a3","k":0,"m":1.77276,"dE":-0.26872},{"a":"a3","k":1,"m":1.82459,"dE":-0.06958},
{"a":"a3h","k":0,"m":1.81883,"dE":-0.07737},{"a":"a3h","k":1,"m":1.82459,"dE":-0.06958},{"a":"a3h","k":2,"m":1.82344,"dE":-0.08863}
]
},
"layer":[
{"data":{"name":"cells"},"transform":[{"filter":"datum.k == 'bkg'"}],
 "mark":{"type":"point","shape":"square","filled":true,"color":"black","strokeWidth":0,"opacity":1},
 "encoding":{
  "x":{"field":"m","type":"quantitative","scale":{"domain":[1.657,1.877],"nice":false,"zero":false},
   "axis":{"orient":"bottom","values":[1.7,1.75,1.8,1.85],"ticks":false,"labelPadding":7,"labelExpr":"'' + datum.value","title":null}},
  "y":{"field":"dE","type":"quantitative","scale":{"domain":[-0.396,0.2655],"nice":false,"zero":false},
   "axis":{"orient":"left","values":[-0.2,0,0.2],"ticks":false,"labelPadding":11,"labelExpr":"'' + datum.value","title":"ΔE (GeV)","titleFontSize":64,"titleX":-124,"titleY":98,"titleAngle":-90,"titleAlign":"center","titleBaseline":"alphabetic"}},
  "size":{"field":"n","type":"quantitative","scale":{"type":"pow","exponent":2,"domain":[0,30],"range":[0,900]},"legend":null}
 }},
{"data":{"name":"cells"},"transform":[{"filter":"datum.k == 'low'"}],
 "mark":{"type":"point","shape":"square","filled":true,"color":"#6e6e5a","strokeWidth":0,"opacity":1},
 "encoding":{
  "x":{"field":"m","type":"quantitative","scale":{"domain":[1.657,1.877],"nice":false,"zero":false},"axis":null},
  "y":{"field":"dE","type":"quantitative","scale":{"domain":[-0.396,0.2655],"nice":false,"zero":false},"axis":null},
  "size":{"field":"n","type":"quantitative","scale":{"type":"pow","exponent":2,"domain":[0,30],"range":[0,900]},"legend":null}
 }},
{"data":{"name":"cells"},"transform":[{"filter":"datum.k == 'sig'"}],
 "mark":{"type":"point","shape":"square","filled":false,"fill":"#ffff00","stroke":"black","fillOpacity":1,"strokeOpacity":1,"opacity":1},
 "encoding":{
  "x":{"field":"m","type":"quantitative","scale":{"domain":[1.657,1.877],"nice":false,"zero":false},"axis":null},
  "y":{"field":"dE","type":"quantitative","scale":{"domain":[-0.396,0.2655],"nice":false,"zero":false},"axis":null},
  "size":{"field":"n","type":"quantitative","scale":{"type":"pow","exponent":2,"domain":[0,30],"range":[0,900]},"legend":null},
  "strokeWidth":{"field":"n","type":"quantitative","scale":{"domain":[2.4,24.5],"range":[1.7,2.6],"clamp":true},"legend":null}
 }},
{"data":{"name":"ellipse"},
 "mark":{"type":"line","stroke":"black","strokeWidth":2.2,"interpolate":"linear"},
 "encoding":{
  "x":{"field":"m","type":"quantitative","scale":{"domain":[1.657,1.877],"nice":false,"zero":false},"axis":null},
  "y":{"field":"dE","type":"quantitative","scale":{"domain":[-0.396,0.2655],"nice":false,"zero":false},"axis":null},
  "order":{"field":"k","type":"quantitative"}
 }},
{"data":{"values":[{"dE":0.0605},{"dE":-0.1565}]},
 "mark":{"type":"rule","color":"black","strokeWidth":2},
 "encoding":{"y":{"field":"dE","type":"quantitative","scale":{"domain":[-0.396,0.2655],"nice":false,"zero":false},"axis":null}}},
{"data":{"name":"xt"},"transform":[{"filter":"datum.t == 'maj'"}],
 "mark":{"type":"rule","color":"black","strokeWidth":1.6},
 "encoding":{"x":{"field":"m","type":"quantitative","scale":{"domain":[1.657,1.877],"nice":false,"zero":false},"axis":null},
  "y":{"datum":-0.396,"type":"quantitative","scale":{"domain":[-0.396,0.2655],"nice":false,"zero":false},"axis":null},"y2":{"datum":-0.3839}}},
{"data":{"name":"xt"},"transform":[{"filter":"datum.t == 'min'"}],
 "mark":{"type":"rule","color":"black","strokeWidth":1.6},
 "encoding":{"x":{"field":"m","type":"quantitative","scale":{"domain":[1.657,1.877],"nice":false,"zero":false},"axis":null},
  "y":{"datum":-0.396,"type":"quantitative","scale":{"domain":[-0.396,0.2655],"nice":false,"zero":false},"axis":null},"y2":{"datum":-0.38994}}},
{"data":{"name":"xt"},"transform":[{"filter":"datum.t == 'maj'"}],
 "mark":{"type":"rule","color":"black","strokeWidth":1.6},
 "encoding":{"x":{"field":"m","type":"quantitative","scale":{"domain":[1.657,1.877],"nice":false,"zero":false},"axis":null},
  "y":{"datum":0.2655,"type":"quantitative","scale":{"domain":[-0.396,0.2655],"nice":false,"zero":false},"axis":null},"y2":{"datum":0.25338}}},
{"data":{"name":"xt"},"transform":[{"filter":"datum.t == 'min'"}],
 "mark":{"type":"rule","color":"black","strokeWidth":1.6},
 "encoding":{"x":{"field":"m","type":"quantitative","scale":{"domain":[1.657,1.877],"nice":false,"zero":false},"axis":null},
  "y":{"datum":0.2655,"type":"quantitative","scale":{"domain":[-0.396,0.2655],"nice":false,"zero":false},"axis":null},"y2":{"datum":0.25944}}},
{"data":{"name":"yt"},"transform":[{"filter":"datum.t == 'maj'"}],
 "mark":{"type":"rule","color":"black","strokeWidth":1.6},
 "encoding":{"y":{"field":"dE","type":"quantitative","scale":{"domain":[-0.396,0.2655],"nice":false,"zero":false},"axis":null},
  "x":{"datum":1.657,"type":"quantitative","scale":{"domain":[1.657,1.877],"nice":false,"zero":false},"axis":null},"x2":{"datum":1.66132}}},
{"data":{"name":"yt"},"transform":[{"filter":"datum.t == 'min'"}],
 "mark":{"type":"rule","color":"black","strokeWidth":1.6},
 "encoding":{"y":{"field":"dE","type":"quantitative","scale":{"domain":[-0.396,0.2655],"nice":false,"zero":false},"axis":null},
  "x":{"datum":1.657,"type":"quantitative","scale":{"domain":[1.657,1.877],"nice":false,"zero":false},"axis":null},"x2":{"datum":1.65902}}},
{"data":{"name":"yt"},"transform":[{"filter":"datum.t == 'maj'"}],
 "mark":{"type":"rule","color":"black","strokeWidth":1.6},
 "encoding":{"y":{"field":"dE","type":"quantitative","scale":{"domain":[-0.396,0.2655],"nice":false,"zero":false},"axis":null},
  "x":{"datum":1.877,"type":"quantitative","scale":{"domain":[1.657,1.877],"nice":false,"zero":false},"axis":null},"x2":{"datum":1.87268}}},
{"data":{"name":"yt"},"transform":[{"filter":"datum.t == 'min'"}],
 "mark":{"type":"rule","color":"black","strokeWidth":1.6},
 "encoding":{"y":{"field":"dE","type":"quantitative","scale":{"domain":[-0.396,0.2655],"nice":false,"zero":false},"axis":null},
  "x":{"datum":1.877,"type":"quantitative","scale":{"domain":[1.657,1.877],"nice":false,"zero":false},"axis":null},"x2":{"datum":1.87498}}},
{"data":{"name":"arrows"},
 "mark":{"type":"line","stroke":"#1a62a8","strokeWidth":6,"strokeCap":"round","strokeJoin":"round"},
 "encoding":{
  "x":{"field":"m","type":"quantitative","scale":{"domain":[1.657,1.877],"nice":false,"zero":false},"axis":null},
  "y":{"field":"dE","type":"quantitative","scale":{"domain":[-0.396,0.2655],"nice":false,"zero":false},"axis":null},
  "detail":{"field":"a","type":"nominal"},
  "order":{"field":"k","type":"quantitative"}
 }},
{"data":{"values":[{"m":1.75318,"dE":0.11398,"txt":"3σ Signal Region"},{"m":1.76801,"dE":-0.33193,"txt":"Sideband Regions"}]},
 "mark":{"type":"text","font":"Lato","fontWeight":"bold","fontSize":49,"color":"#0f5298","align":"center","baseline":"alphabetic","clip":false},
 "encoding":{
  "x":{"field":"m","type":"quantitative","scale":{"domain":[1.657,1.877],"nice":false,"zero":false},"axis":null},
  "y":{"field":"dE","type":"quantitative","scale":{"domain":[-0.396,0.2655],"nice":false,"zero":false},"axis":null},
  "text":{"field":"txt","type":"nominal"}
 }},
{"data":{"values":[{"m":1.61064,"dE":-0.36829,"txt":"a"}]},
 "mark":{"type":"text","font":"Lato","fontWeight":"bold","fontSize":49,"color":"#0f5298","align":"right","baseline":"alphabetic","clip":false},
 "encoding":{
  "x":{"field":"m","type":"quantitative","scale":{"domain":[1.657,1.877],"nice":false,"zero":false},"axis":null},
  "y":{"field":"dE","type":"quantitative","scale":{"domain":[-0.396,0.2655],"nice":false,"zero":false},"axis":null},
  "text":{"field":"txt","type":"nominal"}
 }},
{"data":{"values":[{"m":1.7264,"dE":0.21788,"txt":"(e) τ⁻→e⁺μ⁻μ⁻"}]},
 "mark":{"type":"text","font":"Liberation Serif","fontSize":52,"color":"black","align":"left","baseline":"alphabetic","clip":false},
 "encoding":{
  "x":{"field":"m","type":"quantitative","scale":{"domain":[1.657,1.877],"nice":false,"zero":false},"axis":null},
  "y":{"field":"dE","type":"quantitative","scale":{"domain":[-0.396,0.2655],"nice":false,"zero":false},"axis":null},
  "text":{"field":"txt","type":"nominal"}
 }},
{"data":{"values":[{"m":1.77535,"dE":-0.51376,"txt":"m"},{"m":1.81307,"dE":-0.51376,"txt":"(GeV/c²)"}]},
 "mark":{"type":"text","font":"Liberation Serif","fontSize":62,"color":"black","align":"left","baseline":"alphabetic","clip":false},
 "encoding":{
  "x":{"field":"m","type":"quantitative","scale":{"domain":[1.657,1.877],"nice":false,"zero":false},"axis":null},
  "y":{"field":"dE","type":"quantitative","scale":{"domain":[-0.396,0.2655],"nice":false,"zero":false},"axis":null},
  "text":{"field":"txt","type":"nominal"}
 }},
{"data":{"values":[{"m":1.79119,"dE":-0.52329,"txt":"eμμ"}]},
 "mark":{"type":"text","font":"Liberation Serif","fontSize":46,"color":"black","align":"left","baseline":"alphabetic","clip":false},
 "encoding":{
  "x":{"field":"m","type":"quantitative","scale":{"domain":[1.657,1.877],"nice":false,"zero":false},"axis":null},
  "y":{"field":"dE","type":"quantitative","scale":{"domain":[-0.396,0.2655],"nice":false,"zero":false},"axis":null},
  "text":{"field":"txt","type":"nominal"}
 }}
],
"resolve":{"axis":{"x":"independent","y":"independent"}}
}
